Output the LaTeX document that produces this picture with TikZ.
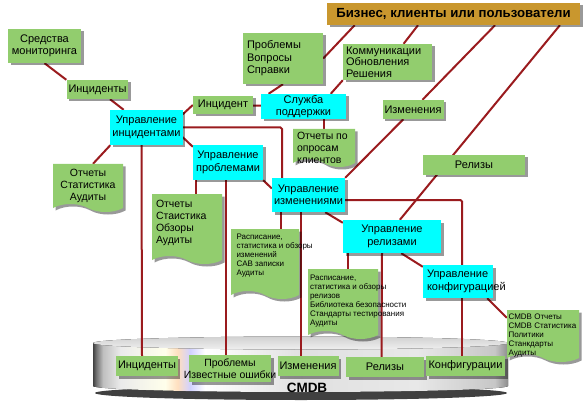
\documentclass[tikz,border=0pt]{standalone}
\usepackage{fontspec}
\setmainfont{Liberation Sans}
\usetikzlibrary{shapes.symbols, shadows, calc}

\definecolor{boxgreen}{HTML}{92CD6E}
\definecolor{boxcyan}{HTML}{00FFFF}
\definecolor{bizgold}{HTML}{C9972E}
\definecolor{linkred}{HTML}{9A1B1E}

\pgfdeclarelayer{bg}
\pgfsetlayers{bg,main}

% side of the CMDB drum, the path is mapped on 25bp..75bp
\pgfdeclarehorizontalshading{cmdbside}{100bp}{%
  color(0bp)=(black!75); color(25bp)=(black!75); color(25.4bp)=(black!55);
  color(26.2bp)=(black!25); color(28.3bp)=(black!8); color(33.7bp)=(yellow!8!white);
  color(35.2bp)=(orange!25!white); color(36.7bp)=(blue!18!white); color(38.5bp)=(white);
  color(50bp)=(black!12); color(64bp)=(black!9); color(73.4bp)=(black!22);
  color(75bp)=(black!45); color(100bp)=(black!45)}

\tikzset{
  lbl/.style={font=\fontsize{11}{12.5}\selectfont, align=center, inner xsep=2pt, inner ysep=1pt},
  shade box/.style={drop shadow={shadow xshift=2.5pt, shadow yshift=-2.5pt, fill=black, opacity=0.4}},
  gbox/.style={lbl, fill=boxgreen, shade box},
  cbox/.style={lbl, fill=boxcyan, shade box},
  docbox/.style={shape=tape, tape bend top=none, tape bend bottom=out and in, tape bend height=8pt,
    fill=boxgreen, shade box, inner sep=0pt},
  doctxt/.style={font=\fontsize{8}{9}\selectfont, align=left, inner sep=0pt},
  bigtxt/.style={font=\fontsize{10.5}{12}\selectfont},
  link/.style={draw=linkred, line width=2pt, rounded corners=1.5pt},
}

\begin{document}
\begin{tikzpicture}[x=1pt, y=-1pt]
  \useasboundingbox (0,0) rectangle (583,406);

  % top row
  \node[fill=bizgold, shade box, minimum width=253pt, minimum height=22pt,
    font=\bfseries\fontsize{13.2}{15}\selectfont] (biz) at (453.5,14) {Бизнес, клиенты или пользователи};
  \node[gbox, minimum width=73pt, minimum height=34pt] (mon) at (44.5,46) {Средства\\мониторинга};
  \node[gbox, minimum width=59pt, minimum height=19pt] (incT) at (97.5,89.5) {Инциденты};
  \node[gbox, text width=72pt, align=left, inner xsep=4pt, minimum height=51pt] (pvs) at (283,58.5) {Проблемы\\Вопросы\\Справки};
  \node[gbox, text width=83pt, align=left, inner xsep=3pt, minimum height=36pt,
    font=\fontsize{11}{11.5}\selectfont] (kor) at (387.5,62) {Коммуникации\\Обновления\\Решения};
  \node[gbox, minimum width=60pt, minimum height=18pt] (incd) at (223,105) {Инцидент};
  \node[cbox, minimum width=85pt, minimum height=25pt] (sd) at (303.5,106.5) {Служба\\поддержки};
  \node[gbox, minimum width=60pt, minimum height=19pt] (izmT) at (413,109.5) {Изменения};
  \node[gbox, minimum width=102pt, minimum height=20pt] (relT) at (474,165) {Релизы};

  % processes
  \node[cbox, minimum width=71pt, minimum height=35pt] (uinc) at (146.5,127.5) {Управление\\инцидентами};
  \node[cbox, minimum width=70pt, minimum height=35pt] (upr) at (228,162.5) {Управление\\проблемами};
  \node[cbox, minimum width=73pt, minimum height=34pt] (uizm) at (308.5,195) {Управление\\изменениями};
  \node[cbox, minimum width=98pt, minimum height=33pt] (urel) at (392,236.5) {Управление\\релизами};
  \node[cbox, text width=62pt, align=left, inner xsep=4pt, minimum height=33pt] (ukonf) at (458,281.5) {Управление\\\mbox{конфигурацией}};

  % reports
  \node[docbox, minimum width=62pt, minimum height=38pt] (opr) at (324,144) {};
  \node[doctxt, bigtxt, anchor=north west] (oprT) at ([xshift=4pt, yshift=-3pt]opr.north west) {Отчеты по\\опросам\\клиентов};
  \node[docbox, minimum width=70pt, minimum height=48pt] (repL) at (88,184) {};
  \node[doctxt, bigtxt, align=center, anchor=north] (repLT) at ([yshift=-5pt]repL.north) {Отчеты\\Статистика\\Аудиты};
  \node[docbox, minimum width=70pt, minimum height=70pt] (repP) at (187,225) {};
  \node[doctxt, bigtxt, anchor=north west] (repPT) at ([xshift=4pt, yshift=-6pt]repP.north west) {Отчеты\\Стаистика\\Обзоры\\Аудиты};
  \node[docbox, minimum width=68pt, minimum height=70pt] (docIzm) at (265,260) {};
  \node[doctxt, anchor=north west] (docIzmT) at ([xshift=5.5pt, yshift=-4.5pt]docIzm.north west)
    {Расписание,\\статистика и обзоры\\изменений\\CAB записки\\Аудиты};
  \node[docbox, minimum width=70pt, minimum height=70pt] (docRel) at (343,300) {};
  \node[doctxt, anchor=north west] (docRelT) at ([xshift=2pt, yshift=-6pt]docRel.north west)
    {Расписание,\\статистика и обзоры\\релизов\\Библиотека безопасности\\Стандарты тестирования\\Аудиты};
  \node[docbox, minimum width=72pt, minimum height=52pt] (docCmdb) at (543,332) {};
  \node[doctxt, anchor=north west] (docCmdbT) at ([xshift=1.5pt, yshift=-4pt]docCmdb.north west)
    {CMDB Отчеты\\CMDB Статистика\\Политики\\Станкдарты\\Аудиты};

  % CMDB content
  \node[gbox, minimum width=60pt, minimum height=20pt] (bInc) at (147,366) {Инциденты};
  \node[gbox, bigtxt, minimum width=82pt, minimum height=27pt] (bPrb) at (230,368.5) {Проблемы\\\makebox[0pt]{Известные ошибки}};
  \node[gbox, minimum width=58pt, minimum height=20pt] (bIzm) at (308,366) {Изменения};
  \node[gbox, minimum width=78pt, minimum height=20pt] (bRel) at (385,367) {Релизы};
  \node[gbox, minimum width=79pt, minimum height=20pt] (bKonf) at (465.5,366) {Конфигурации};
  \node[font=\bfseries\fontsize{13.5}{15}\selectfont] (cmdb) at (307,388) {CMDB};

  \begin{pgfonlayer}{bg}
    % drum
    \fill[black!75] (301,393) ellipse [x radius=206pt, y radius=7pt];
    \fill[shading=cmdbside] (93,343) -- (93,386) arc [start angle=180, end angle=360, x radius=207.5pt, y radius=6pt] -- (508,343) -- cycle;
    \fill[top color=black!18, bottom color=black!6] (300.5,343) ellipse [x radius=207.5pt, y radius=6.5pt];

    % connectors
    \draw[link] (mon.south) -- (incT.north west);
    \draw[link] (incT) -- (uinc);
    \draw[link] (uinc.20) -- (incd.west);
    \draw[link] (incd) -- (sd);
    \draw[link] (sd.160) -- (pvs.south);
    \draw[link] (sd.25) -- (kor.south west);
    \draw[link] (opr.north) -- (opr.north |- sd.south);
    \draw[link] ($(biz.south west)!0.11!(biz.south east)$) -- (pvs.east);
    \draw[link] ($(biz.south west)!0.36!(biz.south east)$) -- ($(kor.north west)!0.68!(kor.north east)$);
    \draw[link] ($(biz.south west)!0.664!(biz.south east)$) -- (izmT) -- (uizm.north east);
    \draw[link] ($(biz.south west)!0.92!(biz.south east)$) -- ($(urel.north west)!0.58!(urel.north east)$);
    \draw[link] (uinc.east) -| ($(uizm.north west)!0.14!(uizm.north east)$);
    \draw[link] (uinc.-15) -- (upr.156);
    \draw[link] (uinc.south west) -- ([xshift=5pt]repL.north);
    \draw[link] ([xshift=-5pt]uinc.south) -- ([xshift=-5pt]bInc.north);
    \draw[link] ([xshift=3pt]upr.south west) -- ([xshift=3pt]upr.south west |- repP.north);
    \draw[link] ([xshift=-2pt]upr.south) -- ([xshift=-4pt]bPrb.north);
    \draw[link] (upr.south east) -- (uizm.170);
    \draw[link] ([xshift=9pt]uizm.south west) -- ([xshift=9pt]uizm.south west |- docIzm.north);
    \draw[link] ([xshift=-7.5pt]uizm.south) -- ([xshift=-7pt]bIzm.north);
    \draw[link] ([xshift=-20pt]uizm.south east) -- ([yshift=-3pt]urel.north west);
    \draw[link] ([yshift=-5pt]uizm.east) -| ([xshift=4pt]ukonf.north);
    \draw[link] ([xshift=5pt]urel.south west) -- ([xshift=5pt]urel.south west |- docRel.north);
    \draw[link] ([xshift=-10pt]urel.south) -- ([xshift=-3.5pt]bRel.north);
    \draw[link] ([xshift=-40pt]urel.south east) -- ([yshift=-2pt]ukonf.north west);
    \draw[link] ([xshift=4pt]ukonf.south) -- ([xshift=-3.5pt]bKonf.north);
    \draw[link] ([xshift=-6pt]ukonf.south east) -- ([yshift=-8pt]docCmdb.north west);
  \end{pgfonlayer}
\end{tikzpicture}
\end{document}
